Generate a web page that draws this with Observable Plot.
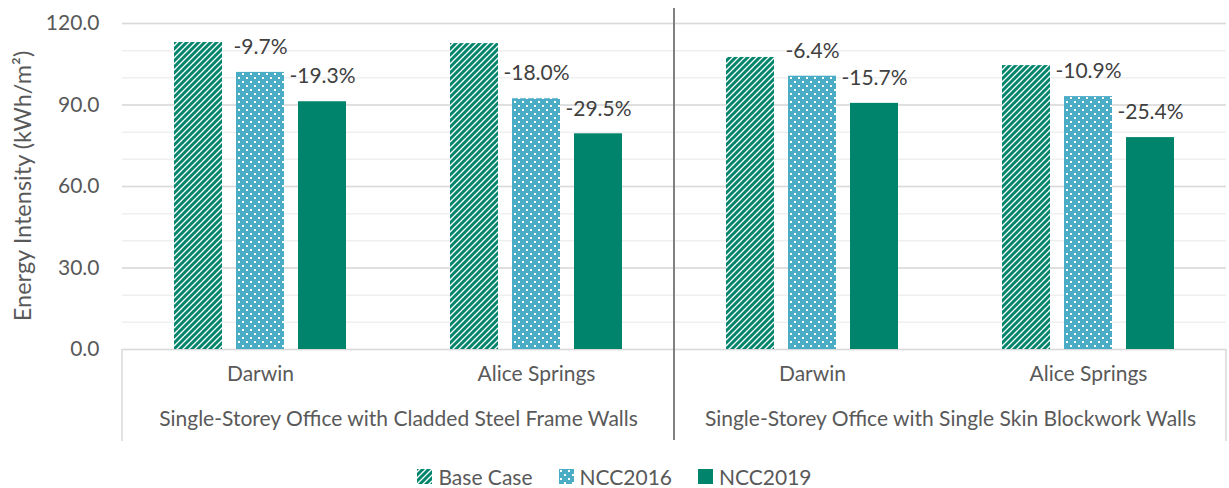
<!DOCTYPE html>
<html>
<head>
<meta charset="utf-8">
<script src="https://cdn.jsdelivr.net/npm/d3@7"></script>
<script src="https://cdn.jsdelivr.net/npm/@observablehq/plot@0.6"></script>
<style>
  body { margin: 0; background: #fff; font-family: Lato, sans-serif; }
  #wrap { position: relative; width: 1229px; height: 488px; }
  #legend { position: absolute; left: 0; top: 464px; width: 1229px; display: flex; justify-content: center; gap: 26px; font-size: 21px; color: #595959; }
  #legend .item { display: flex; align-items: center; gap: 6px; }
  #legend svg { display: block; }
</style>
</head>
<body>
<div id="wrap">
  <div id="chart"></div>
  <div id="legend"></div>
</div>
<script>
// Building types (outer category) and climate zones (inner category)
const groups = [
  "Single-Storey Office with Cladded Steel Frame Walls",
  "Single-Storey Office with Single Skin Blockwork Walls"
];
const cities = ["Darwin", "Alice Springs"];
const series = ["Base Case", "NCC2016", "NCC2019"];

// Energy intensity (kWh/m²), one value per group × city, in order
const baseCase = [113.0, 112.6, 107.5, 104.5];
const ncc2016 = [102.0, 92.3, 100.6, 93.1];
const ncc2019 = [91.2, 79.4, 90.6, 78.0];

// Change relative to the base case
const ncc2016Change = ["-9.7%", "-18.0%", "-6.4%", "-10.9%"];
const ncc2019Change = ["-19.3%", "-29.5%", "-15.7%", "-25.4%"];

const yTicks = [0, 30, 60, 90, 120];
const yMinor = d3.range(0, 121, 10);
const yTitle = "Energy Intensity (kWh/m²)";

const green = "#00846c";
const blue = "#4bacc6";
const fills = ["url(#stripes)", "url(#dots)", green];

const cats = groups.flatMap(g => cities.map(c => ({group: g, city: c, key: g + "|" + c})));
const keys = cats.map(d => d.key);

const rows = [];
cats.forEach((c, i) => {
  rows.push({key: c.key, series: "Base Case", value: baseCase[i], label: null});
  rows.push({key: c.key, series: "NCC2016", value: ncc2016[i], label: ncc2016Change[i]});
  rows.push({key: c.key, series: "NCC2019", value: ncc2019[i], label: ncc2019Change[i]});
});

const groupHeads = groups.map(g => ({group: g, key: g + "|" + cities[0]}));

const plot = Plot.plot({
  width: 1229,
  height: 455,
  marginLeft: 121,
  marginRight: 3,
  marginTop: 23,
  marginBottom: 106,
  style: {fontFamily: "Lato, sans-serif", fontSize: "21px", color: "#595959", background: "white", overflow: "visible"},
  fx: {domain: keys, padding: 0, axis: null},
  x: {domain: series, paddingInner: 0.23, paddingOuter: 0.84, axis: null},
  y: {
    domain: [0, 120],
    ticks: yTicks,
    tickSize: 0,
    tickPadding: 23,
    tickFormat: d => d.toFixed(1),
    label: null
  },
  color: {domain: series, range: fills},
  marks: [
    Plot.ruleY(yMinor, {stroke: "#efefef", strokeWidth: 1.5}),
    Plot.ruleY(yTicks, {stroke: "#d9d9d9", strokeWidth: 1.5}),
    Plot.barY(rows, {fx: "key", x: "series", y: "value", fill: "series"}),
    Plot.text(rows.filter(d => d.label), {
      fx: "key", x: "series", y: "value", text: "label",
      dy: -25, fill: "#404040", fontSize: 21
    }),
    Plot.text(cats, {
      fx: "key", text: "city", frameAnchor: "bottom", dy: 31,
      fill: "#595959", fontSize: 21
    }),
    Plot.text(groupHeads, {
      fx: "key", text: "group", frameAnchor: "bottom-right", textAnchor: "middle", dy: 76,
      fill: "#595959", fontSize: 21
    })
  ]
});

document.getElementById("chart").appendChild(plot);

// Fill patterns for the hatched and dotted series
function addPatterns(svgSel) {
  const defs = svgSel.insert("defs", ":first-child");
  const s = defs.append("pattern").attr("id", "stripes")
    .attr("patternUnits", "userSpaceOnUse").attr("width", 6).attr("height", 6);
  s.append("rect").attr("width", 6).attr("height", 6).attr("fill", "#fff");
  s.append("path").attr("d", "M-1,1 l2,-2 M0,6 l6,-6 M5,7 l2,-2")
    .attr("stroke", green).attr("stroke-width", 3);
  const p = defs.append("pattern").attr("id", "dots")
    .attr("patternUnits", "userSpaceOnUse").attr("width", 8).attr("height", 8);
  p.append("rect").attr("width", 8).attr("height", 8).attr("fill", blue);
  p.append("rect").attr("x", 1).attr("y", 1).attr("width", 2).attr("height", 2).attr("fill", "#fff");
  p.append("rect").attr("x", 5).attr("y", 5).attr("width", 2).attr("height", 2).attr("fill", "#fff");
}
const svg = d3.select(plot.tagName.toLowerCase() === "svg" ? plot : plot.querySelector("svg"));
addPatterns(svg);

const fx = plot.scale("fx");
const y = plot.scale("y");
const bw = fx.bandwidth;
const y0 = y.apply(0);

// Vertical axis title
svg.append("text")
  .attr("transform", `translate(22,${(y.apply(0) + y.apply(120)) / 2}) rotate(-90)`)
  .attr("text-anchor", "middle").attr("dominant-baseline", "central")
  .attr("fill", "#595959").attr("font-size", 23.5)
  .text(yTitle);

// Category axis box and the divider between building types
const lines = svg.append("g");
lines.append("line").attr("x1", fx.apply(keys[0])).attr("x2", fx.apply(keys[0]))
  .attr("y1", y0).attr("y2", y0 + 92).attr("stroke", "#d9d9d9").attr("stroke-width", 1.5);
lines.append("line").attr("x1", fx.apply(keys[3]) + bw).attr("x2", fx.apply(keys[3]) + bw)
  .attr("y1", y0).attr("y2", y0 + 92).attr("stroke", "#d9d9d9").attr("stroke-width", 1.5);
lines.append("line").attr("x1", fx.apply(keys[2])).attr("x2", fx.apply(keys[2]))
  .attr("y1", y.apply(120) - 15).attr("y2", y0 + 91).attr("stroke", "#808080").attr("stroke-width", 2);

// Legend
const legend = d3.select("#legend");
series.forEach((name, i) => {
  const item = legend.append("div").attr("class", "item");
  item.append("svg").attr("width", 15).attr("height", 15)
    .append("rect").attr("width", 15).attr("height", 15).attr("fill", fills[i]);
  item.append("span").text(name);
});
</script>
</body>
</html>
